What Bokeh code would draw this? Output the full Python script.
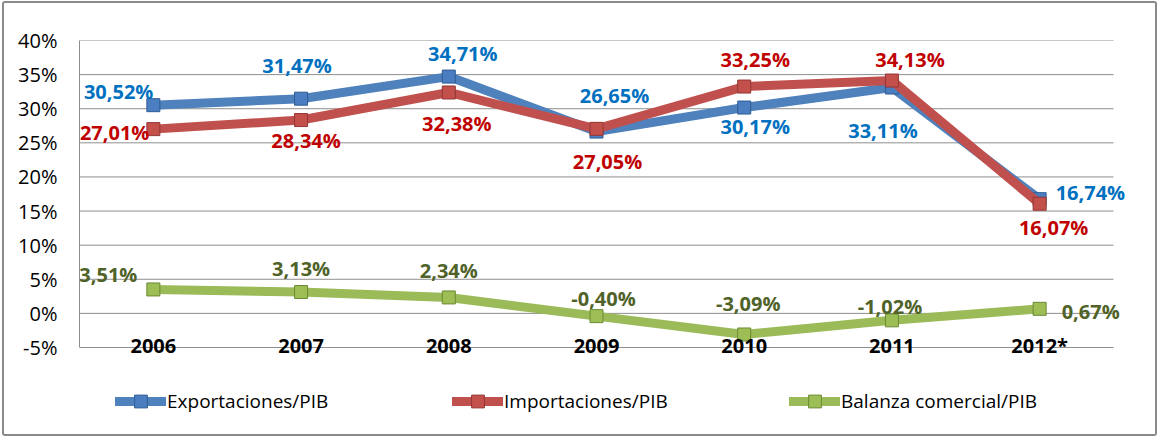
from bokeh.plotting import figure
from bokeh.models import ColumnDataSource, Range1d, Legend, LegendItem, PrintfTickFormatter, FixedTicker
from bokeh.core.properties import value
from bokeh.embed import file_html
from bokeh.resources import INLINE

# ---- data ----
years = ["2006", "2007", "2008", "2009", "2010", "2011", "2012*"]
exportaciones = [30.52, 31.47, 34.71, 26.65, 30.17, 33.11, 16.74]
importaciones = [27.01, 28.34, 32.38, 27.05, 33.25, 34.13, 16.07]
balanza = [3.51, 3.13, 2.34, -0.40, -3.09, -1.02, 0.67]
series_names = ["Exportaciones/PIB", "Importaciones/PIB", "Balanza comercial/PIB"]
y_ticks = [-5, 0, 5, 10, 15, 20, 25, 30, 35, 40]

# ---- styles ----
line_colors = ["#4F81BD", "#C0504D", "#9BBB59"]
marker_fills = ["#4A7EC0", "#C4504C", "#9CBE55"]
marker_edges = ["#2F5C94", "#943634", "#6B8A33"]
label_colors = ["#0070C0", "#C00000", "#4F6228"]
grid_color = "#8E8E8E"
# label placement (pixel offsets from the point, alignment)
label_dx = [[0, -4, 14, 18, 11, -9, 16],
            [-4, 5, 8, 11, 11, 18, 14],
            [-16, 0, 0, 7, 4, -2, 22]]
label_dy = [[-14, -33, -23, -36, 19, 43, -7],
            [3, 20, 31, 33, -27, -21, 24],
            [-15, -24, -27, -18, -31, -14, 3]]
label_align = [["right", "center", "center", "center", "center", "center", "left"],
               ["right", "center", "center", "center", "center", "center", "center"],
               ["right", "center", "center", "center", "center", "center", "left"]]

FONT = "Open Sans"

# layout (pixels)
FRAME_W, FRAME_H = 1061, 385      # whole drawing area (includes legend strip)
DATA_W, DATA_H = 1034, 307        # area spanned by categories / y ticks


def fmt(v):
    return f"{v:.2f}".replace(".", ",") + "%"


n = len(years)
xs = list(range(n))
x_lo = -0.5
x_hi = x_lo + n * FRAME_W / DATA_W
y_max = y_ticks[-1]
y_lo = y_max - (y_ticks[-1] - y_ticks[0]) * FRAME_H / DATA_H

p = figure(x_range=Range1d(x_lo, x_hi), y_range=Range1d(y_lo, y_max),
           frame_width=FRAME_W, frame_height=FRAME_H,
           min_border_left=75, min_border_right=15, min_border_top=37, min_border_bottom=9,
           x_axis_location=None,
           output_backend="svg", toolbar_location=None)
p.styles = {"border": "2px solid #8A8A8A", "border-radius": "3px",
            "margin-left": "2px", "margin-top": "1px"}
p.outline_line_color = None
p.background_fill_color = "white"
p.border_fill_color = "white"
p.xgrid.grid_line_color = None
p.ygrid.grid_line_color = None

ya = p.yaxis[0]
ya.ticker = FixedTicker(ticks=y_ticks)
ya.bounds = (y_ticks[0], y_ticks[-1])
ya.formatter = PrintfTickFormatter(format="%d%%")
ya.axis_line_color = grid_color
ya.major_tick_line_color = None
ya.minor_tick_line_color = None
ya.major_tick_out = 0
ya.major_tick_in = 0
ya.minor_tick_out = 0
ya.major_label_standoff = 22
ya.major_label_text_font = FONT
ya.major_label_text_font_size = "20px"
ya.major_label_text_color = "black"

# horizontal gridlines over the category span
p.segment(x0=[x_lo] * len(y_ticks), x1=[n - 0.5] * len(y_ticks), y0=y_ticks, y1=y_ticks,
          line_color=grid_color, line_width=1)

items = []
for k, vals in enumerate([exportaciones, importaciones, balanza]):
    src = ColumnDataSource(dict(
        x=xs, y=vals, lab=[fmt(v) for v in vals],
        dx=label_dx[k], dy=label_dy[k], al=label_align[k]))
    lr = p.line("x", "y", source=src, line_color=line_colors[k], line_width=9,
                line_join="round", line_cap="round")
    sr = p.scatter("x", "y", source=src, marker="square", size=13,
                   fill_color=marker_fills[k], line_color=marker_edges[k], line_width=1)
    p.text("x", "y", text="lab", source=src, x_offset="dx", y_offset="dy",
           text_align="al", text_baseline="middle",
           text_font=value(FONT), text_font_style="bold", text_font_size="20px",
           text_color=label_colors[k])
    items.append(LegendItem(label=series_names[k], renderers=[lr, sr]))

# category labels at the bottom of the value area
ysrc = ColumnDataSource(dict(x=xs, y=[y_ticks[0]] * n, t=years))
p.text("x", "y", text="t", source=ysrc, y_offset=-2, text_align="center",
       text_baseline="middle", text_font=value(FONT), text_font_style="bold",
       text_font_size="20px", text_color="black")

legend = Legend(items=items, orientation="horizontal", location=(36, 8),
                glyph_width=51, glyph_height=32, label_standoff=1, label_width=200,
                label_height=20, spacing=85, padding=0, margin=0, border_line_color=None,
                background_fill_alpha=0, label_text_font=FONT,
                label_text_font_size="19px", label_text_color="black")
p.add_layout(legend)

open("out.html", "w").write(file_html(p, INLINE))
